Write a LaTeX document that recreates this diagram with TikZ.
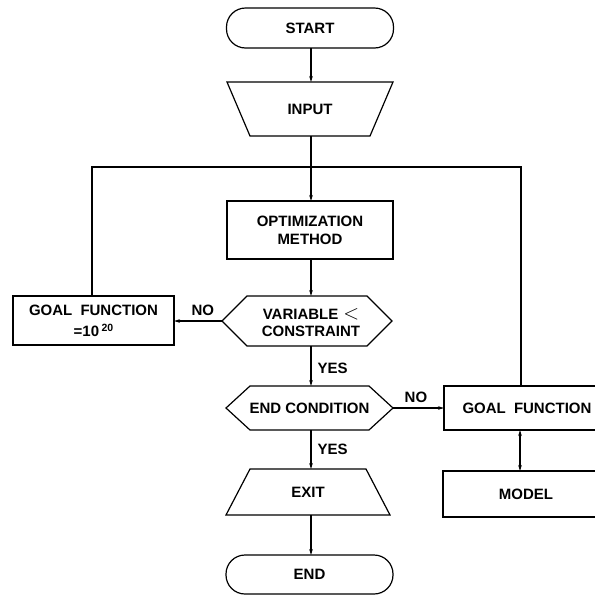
\documentclass[tikz,border=0pt]{standalone}
\usepackage{fontspec}
\setmainfont{Liberation Sans}
\usetikzlibrary{arrows.meta}
\tikzset{
  ln/.style={line width=1.2pt, line join=miter},
  arr/.style={ln, -{Stealth[length=6pt,width=3.6pt]}},
  darr/.style={ln, {Stealth[length=6pt,width=3.6pt]}-{Stealth[length=6pt,width=3.6pt]}},
  lbl/.style={font=\fontsize{15}{17}\selectfont\bfseries, inner sep=0pt},
  base/.style={inner sep=0pt, outer sep=0pt, align=center, font=\fontsize{15}{18}\selectfont\bfseries},
  stadium/.style={base, draw, ln, rounded corners=19pt, minimum width=167pt, minimum height=40pt},
  boxn/.style={base, draw, ln, rectangle},
  ghost/.style={base, rectangle},
}
\begin{document}
\begin{tikzpicture}[x=1pt,y=-1pt]
\useasboundingbox (0,0) rectangle (595,595);
\clip (0,0) rectangle (595,595);

% nodes
\node[stadium] (start) at (310,28) {START};
\node[ghost, minimum width=166pt, minimum height=54pt] (input) at (310,109) {INPUT};
\node[boxn, minimum width=166pt, minimum height=58pt] (optim) at (310,230) {OPTIMIZATION\\METHOD};
\node[ghost, minimum width=170pt, minimum height=50pt] (var) at (307,321) {};
\node[base, font=\fontsize{15}{17}\selectfont\bfseries] (vartxt) at (311,323) {VARIABLE\hspace{5pt}\raisebox{0pt}[0pt][0pt]{\fontsize{21}{21}\selectfont$<$}\\CONSTRAINT};
\node[boxn, minimum width=161pt, minimum height=49pt, font=\fontsize{15}{21}\selectfont\bfseries] (gf1) at (93.5,320.5) {GOAL\hspace{4pt} FUNCTION\\=10\,\raisebox{5pt}{\fontsize{10.5}{10}\selectfont 20}};
\node[ghost, minimum width=167pt, minimum height=44pt] (endc) at (309.5,408) {END CONDITION};
\node[boxn, minimum width=166pt, minimum height=44pt] (gf2) at (527,408) {GOAL\hspace{4pt} FUNCTION};
\node[boxn, minimum width=166pt, minimum height=46pt] (model) at (526,494) {MODEL};
\node[ghost, minimum width=164pt, minimum height=46pt] (exit) at (308,492) {EXIT};
\node[stadium, minimum height=39pt] (end) at (309.5,574.5) {END};

% custom outlines
\draw[ln] (input.north west) -- (input.north east) -- ([xshift=-23pt]input.south east) -- ([xshift=23pt]input.south west) -- cycle;
\draw[ln] ([xshift=24pt]exit.north west) -- ([xshift=-24pt]exit.north east) -- (exit.south east) -- (exit.south west) -- cycle;
\draw[ln] ([xshift=25pt]var.north west) -- ([xshift=-25pt]var.north east) -- (var.east) -- ([xshift=-25pt]var.south east) -- ([xshift=25pt]var.south west) -- (var.west) -- cycle;
\draw[ln] ([xshift=24pt]endc.north west) -- ([xshift=-24pt]endc.north east) -- (endc.east) -- ([xshift=-24pt]endc.south east) -- ([xshift=24pt]endc.south west) -- (endc.west) -- cycle;

% junction
\coordinate (j) at (311,167);
\coordinate (jl) at (92,167);
\coordinate (jr) at (521,167);

% connectors
\draw[arr] (start.south -| j) -- (input.north -| j);
\draw[arr] (input.south -| j) -- (optim.north -| j);
\draw[arr] (optim.south -| j) -- (var.north -| j);
\draw[arr] (var.south -| j) -- node[lbl, right=6pt, pos=0.55] {YES} (endc.north -| j);
\draw[arr] (endc.south -| j) -- node[lbl, right=6pt, pos=0.5] {YES} (exit.north -| j);
\draw[arr] (exit.south -| j) -- (end.north -| j);
\draw[arr] (var.west) -- node[lbl, above=5pt, pos=0.4] {NO} (gf1.east |- var.west);
\draw[arr] (endc.east) -- node[lbl, above=5pt, pos=0.45] {NO} (gf2.west |- endc.east);
\draw[ln] (gf1.north -| jl) -- (jl) -- (jr) -- (gf2.north -| jr);
\draw[darr] (gf2.south -| 520,0) -- (model.north -| 520,0);
\end{tikzpicture}
\end{document}
